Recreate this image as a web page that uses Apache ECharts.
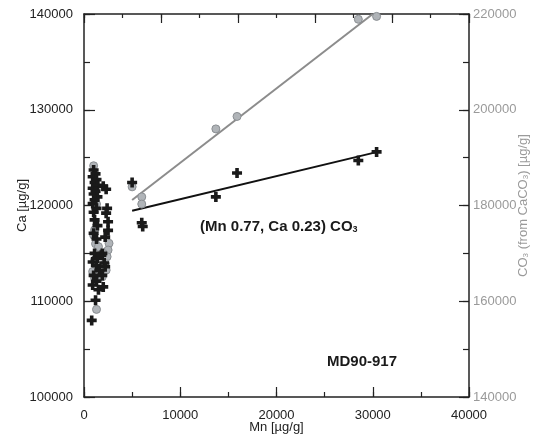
<!DOCTYPE html>
<html>
<head>
<meta charset="utf-8">
<script src="https://cdn.jsdelivr.net/npm/echarts@6/dist/echarts.min.js"></script>
<style>
html,body{margin:0;padding:0;background:#fff;}
#chart{width:547px;height:439px;}
</style>
</head>
<body>
<div id="chart"></div>
<script>
// Ca (black crosses): Mn [µg/g] and Ca [µg/g]
const caMn = [1000,1200,900,1300,1100,1400,900,1200,1000,1400,1100,900,1300,1000,1100,1400,1000,1300,
              1100,1400,900,1300,1600,1000,1300,900,1500,1200,800,
              2000,2300,2400,2300,2500,2500,2200,1900,2100,2200,1900,2000,1800,
              5000,6000,6100,13700,15900,28500,30400];
const caVal = [123700,123300,123000,122700,122400,122100,121800,121500,121200,120900,120600,120200,119700,119300,
               118500,117900,117100,116500,115000,114500,114100,113700,113200,112700,112100,111700,111200,110100,108000,
               122000,121700,119700,119200,118300,117400,116700,115000,114000,113600,112700,111500,114800,
               122400,118200,117800,120900,123400,124700,125600];
// CO3 from CaCO3 (grey circles): Mn and CO3 [µg/g]
const co3Mn = [1000,1300,1100,1000,1200,2600,1500,2500,2400,1100,2200,900,1900,1100,2300,1300,2000,
               5000,6000,6000,13700,15900,28500,30400];
const co3Val = [188300,180300,174900,173800,172000,172100,171400,170700,169300,168600,167900,166200,165100,164800,166500,158300,170000,
                183900,181800,180300,196000,198600,218900,219500];
// regression lines
const caFitMn = [5000,30500];
const caFitVal = [119450,125600];
const co3FitMn = [5000,30000];
const co3FitVal = [181150,220000];
// axis ranges
const xTicks = [0,10000,20000,30000,40000];
const caTicks = [100000,110000,120000,130000,140000];
const co3Ticks = [140000,160000,180000,200000,220000];

const zip = (a,b)=>a.map((v,i)=>[v,b[i]]);
const FONT = '"Liberation Sans", Arial, sans-serif';
const AX = '#222';
const GREY = '#9a9a9a';
const crossPath = 'path://M32,0H68V32H100V68H68V100H32V68H0V32H32Z';
const plain = v => String(v);
const G = {left:84,right:78,top:14,bottom:42,containLabel:false};

function tickOnly(pos, min, max, interval, len, gridIndex){
  return {
    type:'value',position:pos,gridIndex:gridIndex,min:min,max:max,interval:interval,
    axisLine:{show:false,onZero:false},
    axisTick:{show:true,inside:true,length:len,lineStyle:{color:AX,width:1.2}},
    axisLabel:{show:false},splitLine:{show:false}
  };
}

const chart = echarts.init(document.getElementById('chart'));
chart.setOption({
  animation:false,
  backgroundColor:'#fff',
  textStyle:{fontFamily:FONT},
  grid:[G, Object.assign({},G)],
  xAxis:[{
    type:'value',position:'bottom',gridIndex:0,min:xTicks[0],max:xTicks[xTicks.length-1],interval:10000,
    name:'Mn [µg/g]',nameLocation:'middle',nameGap:24,nameMoveOverlap:false,
    nameTextStyle:{fontSize:13,color:AX,fontFamily:FONT},
    axisLine:{show:true,onZero:false,lineStyle:{color:AX,width:1.5}},
    axisTick:{show:true,inside:true,length:10,lineStyle:{color:AX,width:1.2}},
    axisLabel:{fontSize:13,color:AX,margin:12,fontFamily:FONT,formatter:plain},
    splitLine:{show:false}
  },{
    type:'value',position:'top',gridIndex:0,min:0,max:40000,interval:8000,
    axisLine:{show:true,onZero:false,lineStyle:{color:AX,width:1.5}},
    axisTick:{show:true,inside:true,length:9,lineStyle:{color:AX,width:1.2}},
    axisLabel:{show:false},
    splitLine:{show:false}
  },
  tickOnly('bottom',0,40000,5000,5,1),
  tickOnly('top',0,40000,4000,4,1)
  ],
  yAxis:[{
    type:'value',position:'left',gridIndex:0,min:caTicks[0],max:caTicks[caTicks.length-1],interval:10000,
    name:'Ca [µg/g]',nameLocation:'middle',nameGap:55,nameMoveOverlap:false,
    nameTextStyle:{fontSize:13,color:AX,fontFamily:FONT},
    axisLine:{show:true,onZero:false,lineStyle:{color:AX,width:1.5}},
    axisTick:{show:true,inside:true,length:11,lineStyle:{color:AX,width:1.2}},
    axisLabel:{fontSize:13,color:AX,margin:11,fontFamily:FONT,formatter:plain},
    splitLine:{show:false}
  },{
    type:'value',position:'right',gridIndex:0,min:co3Ticks[0],max:co3Ticks[co3Ticks.length-1],interval:20000,
    name:'CO{s|3} (from CaCO{s|3}) [µg/g]',nameLocation:'middle',nameGap:47,nameRotate:90,nameMoveOverlap:false,
    nameTextStyle:{fontSize:13,color:GREY,fontFamily:FONT,
      rich:{s:{fontSize:8,color:GREY,verticalAlign:'bottom',padding:[6,0,0,0],fontFamily:FONT}}},
    axisLine:{show:true,onZero:false,lineStyle:{color:AX,width:1.5}},
    axisTick:{show:true,inside:true,length:10,lineStyle:{color:AX,width:1.2}},
    axisLabel:{fontSize:13,color:GREY,margin:4,fontFamily:FONT,formatter:plain},
    splitLine:{show:false}
  },
  tickOnly('left',100000,140000,5000,6,1),
  tickOnly('right',140000,220000,10000,6,1)
  ],
  series:[{
    type:'line',xAxisIndex:0,yAxisIndex:1,data:zip(co3FitMn,co3FitVal),
    showSymbol:false,lineStyle:{color:'#8c8c8c',width:2},z:1,silent:true
  },{
    type:'line',xAxisIndex:0,yAxisIndex:0,data:zip(caFitMn,caFitVal),
    showSymbol:false,lineStyle:{color:'#111',width:2},z:1,silent:true
  },{
    type:'scatter',xAxisIndex:0,yAxisIndex:1,data:zip(co3Mn,co3Val),
    symbol:'circle',symbolSize:8,
    itemStyle:{color:'#b0b4b8',borderColor:'#8a8e92',borderWidth:1,opacity:1},z:2
  },{
    type:'scatter',xAxisIndex:0,yAxisIndex:0,data:zip(caMn,caVal),
    symbol:crossPath,symbolSize:10,
    itemStyle:{color:'#1a1a1a',opacity:1},z:3
  }],
  graphic:[{
    type:'text',left:200,top:219,z:10,
    style:{text:'(Mn 0.77, Ca 0.23) CO{s|3}',font:'bold 15px '+FONT,fill:'#1a1a1a',
      rich:{s:{fontSize:9,fontWeight:'bold',fill:'#1a1a1a',verticalAlign:'bottom',padding:[6,0,0,0]}}}
  },{
    type:'text',left:327,top:354,z:10,
    style:{text:'MD90-917',font:'bold 15px '+FONT,fill:'#1a1a1a'}
  }]
});
</script>
</body>
</html>
